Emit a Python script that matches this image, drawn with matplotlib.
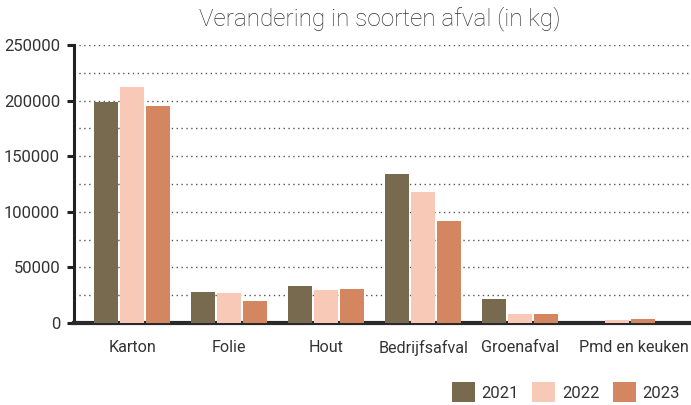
import numpy as np
import matplotlib
matplotlib.use("Agg")
import matplotlib.pyplot as plt
from matplotlib.ticker import MultipleLocator
from matplotlib.transforms import ScaledTranslation

categories = ["Karton", "Folie", "Hout", "Bedrijfsafval", "Groenafval", "Pmd en keuken"]
years = ["2021", "2022", "2023"]
v2021 = [199000, 28000, 33500, 134000, 21800, 0]
v2022 = [212000, 27000, 30000, 118000, 8000, 2700]
v2023 = [195000, 19800, 30800, 92000, 8000, 3600]
colors = ["#786a4f", "#f8c9b7", "#d38660"]

plt.rcParams['font.family'] = ['Roboto', 'DejaVu Sans']
txt = "#333333"

fig = plt.figure(figsize=(6.91, 4.05), dpi=100)
ax = fig.add_axes([0.107, 0.2025, 0.893, 0.6865])

x = np.arange(len(categories))
w = 0.245
pitch = 0.268
for i, (vals, yr) in enumerate(zip([v2021, v2022, v2023], years)):
    ax.bar(x + (i - 1) * pitch, vals, width=w, color=colors[i], label=yr, zorder=3)

ax.set_xlim(-0.6, 5.76)
ax.set_ylim(0, 250000)
ax.yaxis.set_major_locator(MultipleLocator(50000))
ax.yaxis.set_minor_locator(MultipleLocator(25000))
ax.grid(axis='y', which='both', linestyle=(0, (1, 2.5)), color='#555555', linewidth=1.0, zorder=1)

for s in ['top', 'right']:
    ax.spines[s].set_visible(False)
ax.spines['left'].set_linewidth(2.2)
ax.spines['left'].set_color('#222222')
ax.spines['bottom'].set_linewidth(3)
ax.spines['bottom'].set_color('#2a2a2a')

ax.set_xticks(x)
ax.set_xticklabels(categories)
ax.tick_params(axis='x', length=0, pad=12, labelsize=11.6, labelcolor=txt)
ax.tick_params(axis='y', which='major', length=5, width=2.2, color='#222222', pad=5,
               labelsize=12, labelcolor=txt)
ax.tick_params(axis='y', which='minor', length=0)
ax.set_yticklabels([f"{int(t)}" for t in ax.get_yticks()])

# last label is nudged right in the original so it does not collide
last = ax.get_xticklabels()[-1]
last.set_transform(last.get_transform() + ScaledTranslation(0.17, 0, fig.dpi_scale_trans))

fig.text(0.549, 0.953, "Verandering in soorten afval (in kg)", ha='center', va='center',
         fontsize=17.5, color='#333333', fontweight='light')

fig.legend(loc='center right', bbox_to_anchor=(680 / 691, 1 - 392 / 405), ncol=3, frameon=False,
           fontsize=12, handlelength=1.4, handleheight=1.4, handletextpad=0.4,
           columnspacing=0.78, borderpad=0, borderaxespad=0, labelcolor=txt)

fig.savefig("out.png", dpi=100)
